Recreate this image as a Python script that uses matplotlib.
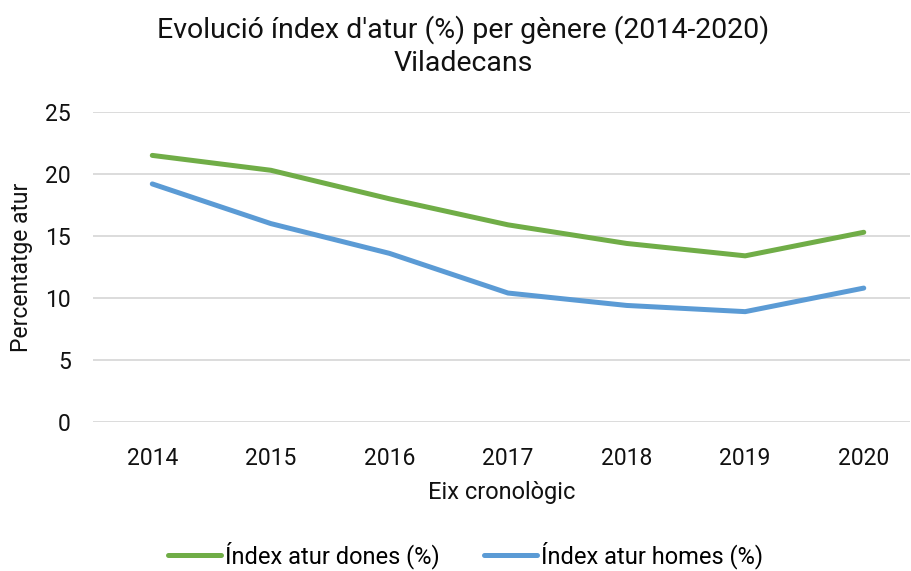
import matplotlib.pyplot as plt

plt.rcParams['font.family'] = ['Roboto', 'DejaVu Sans']

years = ['2014', '2015', '2016', '2017', '2018', '2019', '2020']
dones = [21.5, 20.3, 18.0, 15.9, 14.4, 13.4, 15.3]
homes = [19.2, 16.0, 13.6, 10.4, 9.4, 8.9, 10.8]

fig = plt.figure(figsize=(9.11, 5.71), dpi=100)
ax = fig.add_axes([93 / 911, 149 / 571, 817 / 911, 310 / 571])

x = range(len(years))
ax.plot(x, dones, color='#70AD47', lw=3.6, solid_capstyle='round', label='Índex atur dones (%)')
ax.plot(x, homes, color='#5B9BD5', lw=3.6, solid_capstyle='round', label='Índex atur homes (%)')

ax.set_xlim(-0.5, 6.39)
ax.set_ylim(0, 25)
ax.set_yticks([0, 5, 10, 15, 20, 25])
ax.set_xticks(list(x))
ax.set_xticklabels(years)
ax.grid(axis='y', color='#D9D9D9', lw=1.3)
ax.set_axisbelow(True)
for s in ax.spines.values():
    s.set_visible(False)
ax.tick_params(length=0, labelsize=16.5, colors='#111111')
ax.tick_params(axis='x', pad=18)
ax.tick_params(axis='y', pad=16)

ax.set_xlabel('Eix cronològic', fontsize=17, color='#111111', labelpad=8)
ax.set_ylabel('Percentatge atur', fontsize=16.5, color='#111111')
ax.yaxis.set_label_coords(-0.073, 0.5)

fig.text(0.508, 0.974, "Evolució índex d'atur (%) per gènere (2014-2020)\nViladecans",
         ha='center', va='top', fontsize=20.5, color='#111111', linespacing=1.3)

fig.legend(loc='center', bbox_to_anchor=(0.511, 0.028), ncol=2, frameon=False,
           fontsize=17, handlelength=2.25, handletextpad=0.17, columnspacing=1.9)

fig.savefig('out.png', dpi=100)
